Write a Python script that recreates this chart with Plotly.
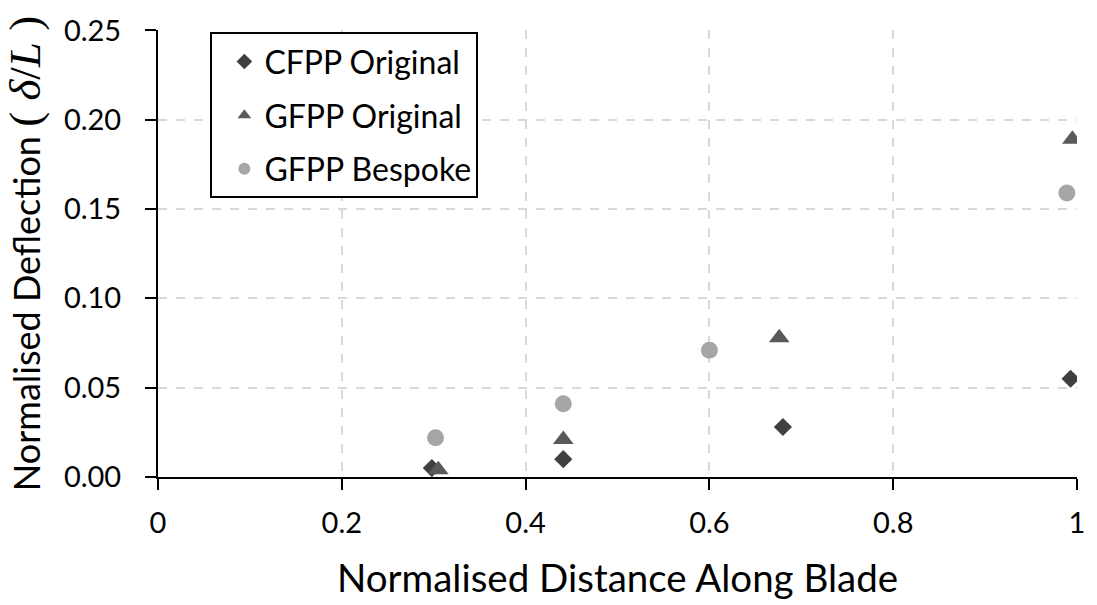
import plotly.graph_objects as go

# Data
cfpp_x = [0.298, 0.441, 0.680, 0.993]
cfpp_y = [0.005, 0.010, 0.028, 0.055]
gfpp_x = [0.305, 0.441, 0.676, 0.995]
gfpp_y = [0.004, 0.021, 0.078, 0.189]
besp_x = [0.302, 0.441, 0.600, 0.989]
besp_y = [0.022, 0.041, 0.071, 0.159]

x_ticks = [0, 0.2, 0.4, 0.6, 0.8, 1]
x_labels = ["0", "0.2", "0.4", "0.6", "0.8", "1"]
y_ticks = [0, 0.05, 0.10, 0.15, 0.20, 0.25]
y_labels = ["0.00", "0.05", "0.10", "0.15", "0.20", "0.25"]

FONT = "Lato"
fig = go.Figure()
fig.add_trace(go.Scatter(x=cfpp_x, y=cfpp_y, mode="markers", name="CFPP Original",
                         legendgroup="a",
                         marker=dict(symbol="diamond", size=14, color="#404040")))
fig.add_trace(go.Scatter(x=gfpp_x, y=gfpp_y, mode="markers", name="GFPP Original",
                         legendgroup="b",
                         marker=dict(symbol="triangle-up", size=18, color="#595959")))
fig.add_trace(go.Scatter(x=besp_x, y=besp_y, mode="markers", name="GFPP Bespoke",
                         legendgroup="c",
                         marker=dict(symbol="circle", size=17, color="#A6A6A6")))

ytitle = ("Normalised Deflection "
          "<span style='font-family:Liberation Serif;font-size:45px'>"
          "( <i>δ</i>/<i>L</i> )</span>")

fig.update_layout(
    width=1097, height=605,
    margin=dict(l=158, r=13, t=20, b=128),
    plot_bgcolor="white", paper_bgcolor="white",
    font=dict(family=FONT, size=29, color="#000000"),
    showlegend=True,
    legend=dict(x=0.057, y=0.995, xanchor="left", yanchor="top",
                bordercolor="black", borderwidth=2, bgcolor="white",
                font=dict(size=32), tracegroupgap=9, itemsizing="constant",
                indentation=12),
    xaxis=dict(range=[0, 1], tickvals=x_ticks, ticktext=x_labels,
               showline=True, linecolor="black", linewidth=2,
               ticks="outside", ticklen=11, tickwidth=2, tickcolor="black",
               showgrid=True, gridcolor="#D9D9D9", gridwidth=2, griddash="dash",
               zeroline=False, tickfont=dict(size=29), ticklabelstandoff=8,
               title=dict(text="Normalised Distance Along Blade", font=dict(size=38.5), standoff=27)),
    yaxis=dict(range=[0, 0.2502], tickvals=y_ticks, ticktext=y_labels,
               showline=True, linecolor="black", linewidth=2,
               ticks="outside", ticklen=11, tickwidth=2, tickcolor="black",
               showgrid=True, gridcolor="#D9D9D9", gridwidth=2, griddash="dash",
               zeroline=False, tickfont=dict(size=29), ticklabelstandoff=18,
               title=dict(text=ytitle, font=dict(size=36), standoff=16)),
)

fig.write_html("out.html")
